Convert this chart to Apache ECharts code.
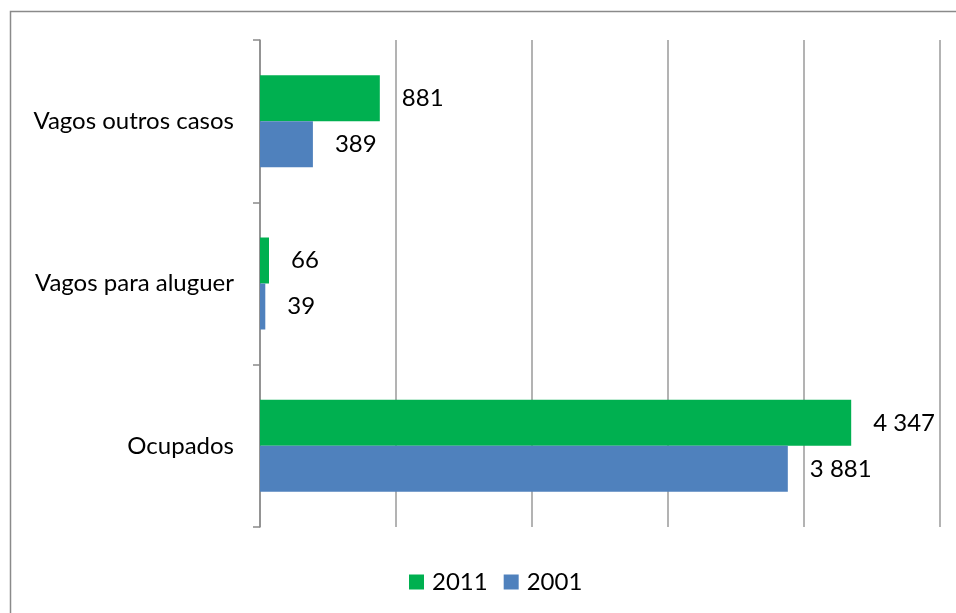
<!DOCTYPE html>
<html>
<head>
<meta charset="utf-8">
<script src="https://cdn.jsdelivr.net/npm/echarts@6/dist/echarts.min.js"></script>
<style>
  html, body { margin: 0; padding: 0; background: #fff; }
  #chart { width: 956px; height: 613px; }
</style>
</head>
<body>
<div id="chart"></div>
<script>
// Housing units by occupancy status, 2001 vs 2011
const categories = ['Ocupados', 'Vagos para aluguer', 'Vagos outros casos'];
const values2001 = [3881, 39, 389];
const values2011 = [4347, 66, 881];
const seriesNames = ['2011', '2001'];

const FONT = 'Lato';
const FS = 24;
const fmt = v => String(v).replace(/\B(?=(\d{3})+(?!\d))/g, ' ');

const labelStyle = {
  show: true, position: 'right', distance: 22,
  formatter: p => fmt(p.value),
  fontFamily: FONT, fontSize: FS, color: '#000'
};

const chart = echarts.init(document.getElementById('chart'));
chart.setOption({
  animation: false,
  textStyle: { fontFamily: FONT },
  graphic: [{
    type: 'rect',
    shape: { x: 10.5, y: 11.5, width: 1000, height: 1000 },
    style: { fill: 'none', stroke: '#8a8a8a', lineWidth: 1.5 },
    silent: true
  }],
  legend: {
    data: seriesNames,
    bottom: 14,
    left: 404,
    itemWidth: 15,
    itemHeight: 15,
    itemGap: 16,
    icon: 'rect',
    textStyle: { fontFamily: FONT, fontSize: FS, color: '#000', padding: [0, 0, 0, 3] }
  },
  grid: { left: 260, right: 16, top: 40, bottom: 86, containLabel: false },
  xAxis: {
    type: 'value',
    min: 0, max: 5000, interval: 1000,
    axisLabel: { show: false },
    axisLine: { show: false },
    axisTick: { show: false },
    splitLine: { show: true, lineStyle: { color: '#9a9a9a', width: 1.5 } }
  },
  yAxis: {
    type: 'category',
    data: categories,
    axisLine: { show: true, lineStyle: { color: '#8a8a8a', width: 1.5 } },
    axisTick: { show: true, length: 7, lineStyle: { color: '#8a8a8a', width: 1.5 } },
    axisLabel: { margin: 26, fontFamily: FONT, fontSize: FS, color: '#000' }
  },
  series: [
    {
      name: '2011', type: 'bar', data: values2011,
      itemStyle: { color: '#00B050' },
      barWidth: 46, barGap: '0%',
      label: labelStyle
    },
    {
      name: '2001', type: 'bar', data: values2001,
      itemStyle: { color: '#4F81BD' },
      barWidth: 46, barGap: '0%',
      label: labelStyle
    }
  ]
});
</script>
</body>
</html>
